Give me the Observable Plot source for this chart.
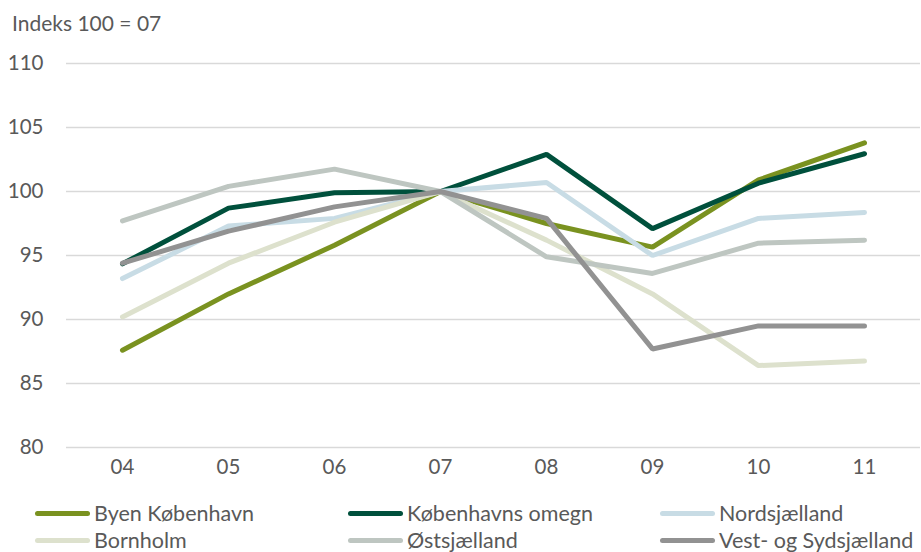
<!DOCTYPE html>
<html><head><meta charset="utf-8">
<script src="https://cdn.jsdelivr.net/npm/d3@7"></script>
<script src="https://cdn.jsdelivr.net/npm/@observablehq/plot@0.6"></script>
<style>
body{margin:0;background:#fff;font-family:Lato,"Open Sans",sans-serif;color:#595959;}
#wrap{position:relative;width:921px;height:552px;overflow:hidden;}
#sub{position:absolute;left:12px;top:10px;font-size:21px;}
#legend{position:absolute;left:0;top:0;width:921px;height:552px;pointer-events:none;}
.li{position:absolute;font-size:21.5px;display:flex;align-items:center;height:24px;}
.sw{width:55px;height:5px;border-radius:3px;margin-right:4px;}
</style></head>
<body><div id="wrap"><div id="chart"></div><div id="sub">Indeks 100 = 07</div><div id="legend"></div></div>
<script>
const years = ["04","05","06","07","08","09","10","11"];
const seriesNames = ["Byen København","Københavns omegn","Nordsjælland","Bornholm","Østsjælland","Vest- og Sydsjælland"];
const colors = ["#7a9220","#00503c","#c8dce5","#dde1cd","#bec6c1","#929292"];
const byen = [87.6, 92.0, 95.8, 100, 97.5, 95.65, 100.9, 103.8];
const kbhOmegn = [94.35, 98.7, 99.9, 100, 102.9, 97.1, 100.65, 102.95];
const nord = [93.2, 97.3, 97.9, 100, 100.7, 95.0, 97.9, 98.36];
const bornholm = [90.2, 94.4, 97.6, 100, 96.2, 92.0, 86.4, 86.75];
const ost = [97.7, 100.4, 101.75, 100, 94.9, 93.6, 95.96, 96.2];
const vest = [94.4, 96.9, 98.8, 100, 97.9, 87.7, 89.5, 89.5];
const yTicks = [80, 85, 90, 95, 100, 105, 110];

const allSeries = [byen, kbhOmegn, nord, bornholm, ost, vest];
const data = [];
allSeries.forEach((vals, i) => vals.forEach((v, j) => data.push({series: seriesNames[i], year: years[j], value: v})));

const chart = Plot.plot({
  width: 921, height: 552,
  marginLeft: 66, marginRight: 1, marginTop: 63, marginBottom: 105,
  style: {fontFamily: "Lato, 'Open Sans', sans-serif", fontSize: "20px", color: "#595959", background: "#fff"},
  x: {type: "point", domain: years, padding: 0.5, label: null},
  y: {domain: [80, 110], label: null},
  color: {domain: seriesNames, range: colors},
  marks: [
    Plot.gridY(yTicks, {stroke: "#d9d9d9", strokeOpacity: 1, strokeWidth: 1.5}),
    Plot.axisY(yTicks, {tickSize: 0, tickPadding: 23, fill: "#595959", fontSize: 20.5, label: null}),
    Plot.axisX(years, {tickSize: 0, tickPadding: 12, fill: "#595959", fontSize: 20.5, label: null}),
    Plot.line(data, {x: "year", y: "value", z: "series", stroke: "series", strokeWidth: 5, strokeLinecap: "round", strokeLinejoin: "miter"})
  ]
});
document.getElementById("chart").appendChild(chart);

const legendPos = [[35,514],[348,514],[660,514],[35,541],[348,541],[660,541]];
const leg = document.getElementById("legend");
seriesNames.forEach((n, i) => {
  const d = document.createElement("div");
  d.className = "li";
  d.style.left = legendPos[i][0] + "px";
  d.style.top = (legendPos[i][1] - 13) + "px";
  d.innerHTML = `<div class="sw" style="background:${colors[i]}"></div><span>${n}</span>`;
  leg.appendChild(d);
});
</script></body></html>
